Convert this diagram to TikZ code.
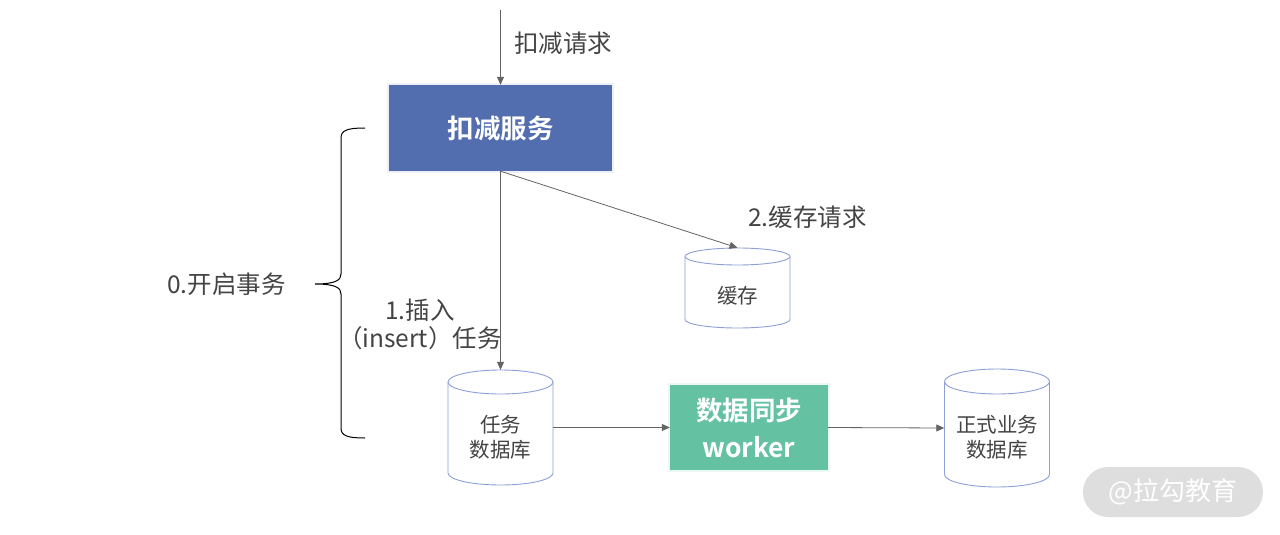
\documentclass[tikz,border=0pt]{standalone}
\usepackage{fontspec}
\setmainfont{Noto Sans CJK SC}[BoldFont={Noto Sans CJK SC Bold}]
\usetikzlibrary{arrows.meta}
\definecolor{boxblue}{RGB}{82,110,175}
\definecolor{boxgreen}{RGB}{100,194,163}
\definecolor{linegray}{RGB}{100,100,100}
\definecolor{txtgray}{RGB}{68,68,68}
\definecolor{cylblue}{RGB}{140,160,215}
\definecolor{wmfill}{RGB}{222,222,222}
\newcommand\drawcyl[5]{%
  \filldraw[cylstyle] (#1-#4,#2+#5) -- (#1-#4,#3-#5)
     arc[start angle=180,end angle=360,x radius=#4pt,y radius=#5pt]
     -- (#1+#4,#2+#5)
     arc[start angle=0,end angle=180,x radius=#4pt,y radius=#5pt] -- cycle;
  \draw[cylstyle] (#1-#4,#2+#5)
     arc[start angle=180,end angle=360,x radius=#4pt,y radius=#5pt];
}
\begin{document}
\begin{tikzpicture}[x=1pt,y=-1pt,
  lbl/.style={inner sep=0pt, text=txtgray, font=\fontsize{24.5}{28}\selectfont},
  dbtext/.style={inner sep=0pt, text=txtgray, align=center, font=\fontsize{20.5}{25}\selectfont},
  dbnode/.style={inner sep=0pt, minimum width=105pt},
  cylstyle/.style={draw=cylblue, fill=white, line width=0.9pt},
  arr/.style={draw=linegray, line width=0.8pt, -{Triangle[length=8pt,width=7pt]}},
  bluebox/.style={fill=boxblue, text=white, minimum width=223pt, minimum height=86pt, inner sep=0pt, font=\bfseries\fontsize{26.5}{30}\selectfont},
  greenbox/.style={fill=boxgreen, text=white, minimum width=158pt, minimum height=85pt, inner sep=0pt, align=center, font=\bfseries\fontsize{26.5}{37}\selectfont},
  wm/.style={fill=wmfill, text=white, minimum width=180pt, minimum height=50pt, rounded corners=25pt, inner sep=0pt, font=\fontsize{26}{30}\selectfont}
]
\useasboundingbox (0,0) rectangle (1280,535);
\fill[white] (0,0) rectangle (1280,535);

% shadow of blue box
\fill[boxblue!10] (387,83) rectangle (614,173);
\node[bluebox] (kj) at (500.5,128) {扣减服务};

\coordinate (src) at (500.5,10);
\draw[arr] (src) -- (kj.north);
\node[lbl, anchor=west] (lreq) at (514,43) {扣减请求};

% cylinders
\drawcyl{737.5}{248}{328}{52.5}{8.5}
\node[dbnode, minimum height=80pt] (cache) at (737.5,288) {};
\node[dbtext] (cachetxt) at (737.5,296) {缓存};

\drawcyl{500.5}{370}{485}{52.5}{12}
\node[dbnode, minimum height=115pt] (taskdb) at (500.5,427.5) {};
\node[dbtext] (taskdbtxt) at (500.5,437) {任务\\数据库};

\drawcyl{997}{369}{487}{52.5}{12.5}
\node[dbnode, minimum height=118pt] (maindb) at (997,428) {};
\node[dbtext] (maindbtxt) at (997,437) {正式业务\\数据库};

% green box
\fill[boxgreen!12] (668,383) rectangle (830,472);
\node[greenbox] (worker) at (749,427.5) {数据同步\\worker};

% connectors
\draw[arr] (kj.south) -- (taskdb.north);
\draw[arr] (kj.south) -- (cache.north);
\draw[arr] (taskdb.east) -- (worker.west);
\draw[arr] (worker.east) -- (maindb.west);

\node[lbl, anchor=west] (lcache) at (748,217) {2.缓存请求};
\node[lbl, align=center] (linsert) at (420,324) {1.插入\\（insert）任务};
\node[lbl, anchor=west] (ltx) at (167,284) {0.开启事务};

% brace
\draw[black, line width=1pt]
  (365,128) .. controls (348,128) and (341,130) .. (341,138)
  -- (341,274) .. controls (341,280) and (336,284) .. (315,284)
  .. controls (336,284) and (341,288) .. (341,294)
  -- (341,428) .. controls (341,436) and (348,438) .. (365,438);

% watermark
\node[wm] (wmark) at (1173,492) {@拉勾教育};
\end{tikzpicture}
\end{document}
